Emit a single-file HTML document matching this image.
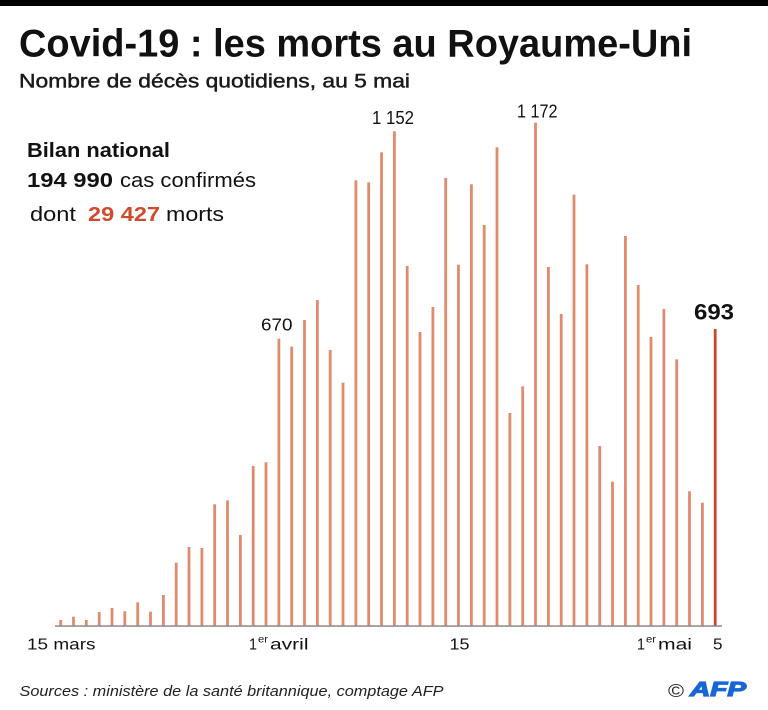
<!DOCTYPE html>
<html>
<head>
<meta charset="utf-8">
<style>
html,body{margin:0;padding:0;background:#fff;}
svg{display:block;}
text{font-family:"Liberation Sans",sans-serif;}
</style>
</head>
<body>
<svg width="768" height="710" viewBox="0 0 768 710" xmlns="http://www.w3.org/2000/svg">
<rect x="0" y="0" width="768" height="710" fill="#fff"/>
<rect x="0" y="0" width="768" height="6" fill="#000"/>
<text x="19" y="56.7" font-size="39" font-weight="bold" fill="#111" textLength="673" lengthAdjust="spacingAndGlyphs">Covid-19 : les morts au Royaume-Uni</text>
<text x="19" y="87.3" font-size="19.5" fill="#1a1a1a" stroke="#1a1a1a" stroke-width="0.45" textLength="391" lengthAdjust="spacingAndGlyphs">Nombre de décès quotidiens, au 5 mai</text>
<text x="27" y="157" font-size="20.5" font-weight="bold" fill="#111" textLength="143" lengthAdjust="spacingAndGlyphs">Bilan national</text>
<text x="27" y="187" font-size="20.5" font-weight="bold" fill="#111" textLength="86" lengthAdjust="spacingAndGlyphs">194 990</text>
<text x="120" y="187" font-size="20.5" fill="#111" textLength="136" lengthAdjust="spacingAndGlyphs">cas confirmés</text>
<text x="30" y="221" font-size="20.5" fill="#111" textLength="46" lengthAdjust="spacingAndGlyphs">dont</text>
<text x="88" y="221" font-size="20.5" font-weight="bold" fill="#D04A2E" textLength="72" lengthAdjust="spacingAndGlyphs">29 427</text>
<text x="166" y="221" font-size="20.5" fill="#111" textLength="58" lengthAdjust="spacingAndGlyphs">morts</text>
<g fill="#E08A6E">
<rect x="59.3" y="620" width="2.8" height="6"/>
<rect x="72.1" y="616.7" width="2.8" height="9.3"/>
<rect x="84.9" y="620" width="2.8" height="6"/>
<rect x="97.8" y="612" width="2.8" height="14"/>
<rect x="110.6" y="608" width="2.8" height="18"/>
<rect x="123.4" y="611.3" width="2.8" height="14.7"/>
<rect x="136.3" y="602.3" width="2.8" height="23.7"/>
<rect x="149.1" y="611.7" width="2.8" height="14.3"/>
<rect x="162" y="595" width="2.8" height="31"/>
<rect x="174.8" y="562.7" width="2.8" height="63.3"/>
<rect x="187.6" y="547" width="2.8" height="79"/>
<rect x="200.5" y="548" width="2.8" height="78"/>
<rect x="213.3" y="504.3" width="2.8" height="121.7"/>
<rect x="226.1" y="500.3" width="2.8" height="125.7"/>
<rect x="239" y="535" width="2.8" height="91"/>
<rect x="251.8" y="466" width="2.8" height="160"/>
<rect x="264.6" y="462.3" width="2.8" height="163.7"/>
<rect x="277.5" y="338.7" width="2.8" height="287.3"/>
<rect x="290.3" y="346.7" width="2.8" height="279.3"/>
<rect x="303.1" y="320" width="2.8" height="306"/>
<rect x="316" y="300" width="2.8" height="326"/>
<rect x="328.8" y="350" width="2.8" height="276"/>
<rect x="341.6" y="382.7" width="2.8" height="243.3"/>
<rect x="354.5" y="180.3" width="2.8" height="445.7"/>
<rect x="367.3" y="182.3" width="2.8" height="443.7"/>
<rect x="380.1" y="152.3" width="2.8" height="473.7"/>
<rect x="393" y="131.3" width="2.8" height="494.7"/>
<rect x="405.8" y="266" width="2.8" height="360"/>
<rect x="418.6" y="332" width="2.8" height="294"/>
<rect x="431.5" y="307" width="2.8" height="319"/>
<rect x="444.3" y="178" width="2.8" height="448"/>
<rect x="457.1" y="264.7" width="2.8" height="361.3"/>
<rect x="470" y="184.3" width="2.8" height="441.7"/>
<rect x="482.8" y="225" width="2.8" height="401"/>
<rect x="495.6" y="147.3" width="2.8" height="478.7"/>
<rect x="508.5" y="413" width="2.8" height="213"/>
<rect x="521.3" y="386.3" width="2.8" height="239.7"/>
<rect x="534.1" y="122.7" width="2.8" height="503.3"/>
<rect x="547" y="267" width="2.8" height="359"/>
<rect x="559.8" y="314" width="2.8" height="312"/>
<rect x="572.6" y="194.7" width="2.8" height="431.3"/>
<rect x="585.5" y="264.3" width="2.8" height="361.7"/>
<rect x="598.3" y="446" width="2.8" height="180"/>
<rect x="611.1" y="481.7" width="2.8" height="144.3"/>
<rect x="624" y="236" width="2.8" height="390"/>
<rect x="636.8" y="285" width="2.8" height="341"/>
<rect x="649.6" y="337" width="2.8" height="289"/>
<rect x="662.5" y="309" width="2.8" height="317"/>
<rect x="675.3" y="359.3" width="2.8" height="266.7"/>
<rect x="688.1" y="491.3" width="2.8" height="134.7"/>
<rect x="701" y="502.7" width="2.8" height="123.3"/>
</g>
<rect x="713.8" y="329" width="2.8" height="297" fill="#C9472E"/>
<rect x="55" y="625.3" width="667" height="1.5" fill="#8a8a8a"/>
<text x="372" y="124" font-size="18" fill="#111" textLength="42" lengthAdjust="spacingAndGlyphs">1 152</text>
<text x="261" y="330.7" font-size="17.5" fill="#111" textLength="31.5" lengthAdjust="spacingAndGlyphs">670</text>
<text x="517" y="117.3" font-size="18" fill="#111" textLength="40.5" lengthAdjust="spacingAndGlyphs">1 172</text>
<text x="694" y="319.5" font-size="22.5" font-weight="bold" fill="#111" textLength="40" lengthAdjust="spacingAndGlyphs">693</text>
<text x="27" y="649.3" font-size="16" fill="#111" textLength="68.5" lengthAdjust="spacingAndGlyphs">15 mars</text>
<text x="249" y="649.3" font-size="16" fill="#111" textLength="8" lengthAdjust="spacingAndGlyphs">1</text>
<text x="258" y="642.5" font-size="10" fill="#111" textLength="10" lengthAdjust="spacingAndGlyphs">er</text>
<text x="270" y="649.3" font-size="16" fill="#111" textLength="38.5" lengthAdjust="spacingAndGlyphs">avril</text>
<text x="449.5" y="649.3" font-size="16" fill="#111" textLength="20" lengthAdjust="spacingAndGlyphs">15</text>
<text x="637" y="649.3" font-size="16" fill="#111" textLength="8" lengthAdjust="spacingAndGlyphs">1</text>
<text x="646" y="642.5" font-size="10" fill="#111" textLength="10" lengthAdjust="spacingAndGlyphs">er</text>
<text x="658" y="649.3" font-size="16" fill="#111" textLength="34" lengthAdjust="spacingAndGlyphs">mai</text>
<text x="713" y="649.3" font-size="16" fill="#111" textLength="9.5" lengthAdjust="spacingAndGlyphs">5</text>
<text x="19.5" y="696" font-size="15" font-style="italic" fill="#222" textLength="424" lengthAdjust="spacingAndGlyphs">Sources : ministère de la santé britannique, comptage AFP</text>
<text x="668" y="697" font-size="18" fill="#222" textLength="16" lengthAdjust="spacingAndGlyphs">©</text>
<text x="690" y="696" font-size="20" font-weight="bold" font-style="italic" fill="#1766D6" stroke="#1766D6" stroke-width="1.2" textLength="56" lengthAdjust="spacingAndGlyphs">AFP</text>
</svg>
</body>
</html>
